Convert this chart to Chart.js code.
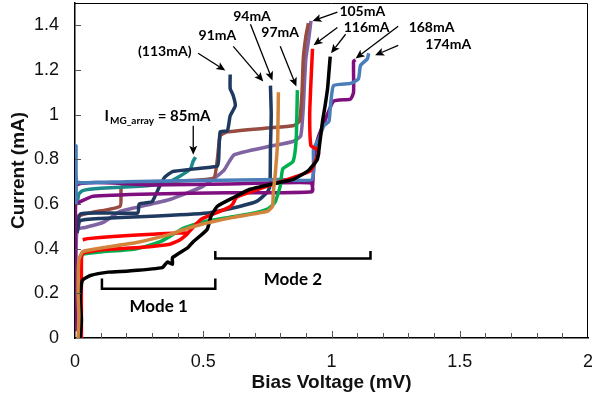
<!DOCTYPE html>
<html>
<head>
<meta charset="utf-8">
<script src="https://cdn.jsdelivr.net/npm/chart.js@4"></script>
<style>
  html, body { margin: 0; padding: 0; background: #fff; }
</style>
</head>
<body>
<canvas id="chart" width="592" height="402"></canvas>
<script>
// I-V sweeps: bias voltage (mV) and current (mA), null = break in the trace
const blackV = [0.02, 0.025, 0.02, 0.025, 0.03, 0.06, 0.13, 0.21, 0.34, 0.36, 0.38, 0.38, 0.44, 0.46, 0.515, 0.53, 0.555, 0.62, 0.68, 0.77, 0.85, 0.91, 0.945, 0.955, 0.965, 0.975, 0.985, 0.99, 0.995];
const blackI = [0.0, 0.08, 0.17, 0.24, 0.26, 0.28, 0.295, 0.30, 0.315, 0.34, 0.33, 0.36, 0.405, 0.43, 0.486, 0.545, 0.59, 0.63, 0.665, 0.69, 0.71, 0.75, 0.80, 0.88, 0.97, 1.04, 1.12, 1.19, 1.26];

const redV = [0.025, 0.025, 0.03, 0.1, 0.25, 0.37, 0.41, 0.44, 0.3, 0.15, 0.05, 0.03, null, 0.44, 0.49, 0.55, 0.6, 0.615, 0.63, 0.7, 0.75, 0.867, 0.92, 0.94, 0.95, 0.945, 0.92, 0.915, 0.92, 0.926];
const redI = [0.0, 0.36, 0.38, 0.395, 0.405, 0.42, 0.44, 0.47, 0.465, 0.455, 0.445, 0.44, null, 0.47, 0.53, 0.56, 0.585, 0.6, 0.63, 0.66, 0.68, 0.725, 0.75, 0.8, 0.825, 0.845, 0.86, 1.0, 1.15, 1.295];

const greenV = [0.02, 0.025, 0.03, 0.1, 0.24, 0.33, 0.37, 0.42, 0.5, 0.6, 0.68, 0.75, 0.78, 0.8, 0.81, 0.85, 0.862, 0.865, 0.867];
const greenI = [0.3, 0.36, 0.375, 0.385, 0.40, 0.43, 0.455, 0.49, 0.52, 0.54, 0.555, 0.577, 0.608, 0.68, 0.757, 0.79, 0.88, 1.0, 1.11];

const orangeV = [0.012, 0.015, 0.012, 0.015, 0.03, 0.11, 0.24, 0.37, 0.45, 0.527, 0.617, 0.75, 0.77, 0.773, 0.78, 0.79, 0.793];
const orangeI = [0.0, 0.1, 0.2, 0.35, 0.387, 0.405, 0.428, 0.464, 0.495, 0.518, 0.54, 0.567, 0.59, 0.653, 0.725, 0.88, 1.10];

const navyAV = [0.008, 0.02, 0.1, 0.245, 0.25, 0.3, 0.31, 0.33, 0.35, 0.38, 0.45, 0.53, 0.555, 0.56, 0.566, 0.594, 0.605, 0.625, 0.617, 0.605, 0.605];
const navyAI = [0.48, 0.555, 0.56, 0.56, 0.6, 0.61, 0.63, 0.68, 0.72, 0.745, 0.755, 0.765, 0.77, 0.80, 0.923, 0.928, 0.995, 1.04, 1.085, 1.117, 1.18];

const navyBV = [0.008, 0.02, 0.1, 0.3, 0.52, 0.566, 0.645, 0.71, 0.75, 0.76, 0.762, 0.765, 0.762];
const navyBI = [0.47, 0.525, 0.535, 0.545, 0.56, 0.57, 0.59, 0.613, 0.653, 0.68, 0.85, 1.0, 1.13];

const tealV = [0.008, 0.015, 0.03, 0.1, 0.25, 0.344, 0.37, 0.41, 0.45, 0.46, 0.47];
const tealI = [0.6, 0.645, 0.66, 0.67, 0.68, 0.69, 0.70, 0.725, 0.757, 0.79, 0.81];

const brownV = [0.003, 0.01, 0.07, 0.176, 0.18, 0.2, 0.35, 0.54, 0.555, 0.566, 0.594, 0.75, 0.85, 0.875, 0.885, 0.89, 0.9, 0.91];
const brownI = [0.5, 0.545, 0.563, 0.59, 0.675, 0.685, 0.70, 0.716, 0.80, 0.905, 0.923, 0.94, 0.95, 0.97, 1.1, 1.25, 1.35, 1.41];

const lavenderV = [0.003, 0.008, 0.04, 0.11, 0.176, 0.24, 0.37, 0.5, 0.58, 0.62, 0.75, 0.85, 0.88, 0.89, 0.895, 0.9, 0.91, 0.92];
const lavenderI = [0.3, 0.486, 0.495, 0.518, 0.567, 0.585, 0.62, 0.68, 0.75, 0.82, 0.856, 0.88, 0.905, 1.03, 1.15, 1.25, 1.33, 1.42];

const purpleV = [0.003, 0.003, 0.3, 0.6, 0.92, 0.925, 0.6, 0.3, 0.07, 0.02, 0.006, null, 0.925, 0.93, 0.9375, 0.95, 0.97, 1.008, 1.074, 1.086, 1.086, 1.094];
const purpleI = [0.03, 0.68, 0.685, 0.69, 0.695, 0.655, 0.65, 0.645, 0.635, 0.61, 0.6, null, 0.657, 0.748, 0.847, 0.905, 0.96, 1.06, 1.07, 1.10, 1.24, 1.245];

const steelV = [0.004, 0.004, 0.006, 0.03, 0.2, 0.5, 0.8, 0.925, 0.93, 0.95, 0.97, 0.99, 0.996, 1.008, 1.074, 1.105, 1.113, 1.14, 1.145];
const steelI = [0.6, 0.86, 0.70, 0.695, 0.70, 0.705, 0.71, 0.71, 0.847, 0.89, 0.95, 0.97, 1.04, 1.13, 1.14, 1.16, 1.22, 1.25, 1.275];

const xTicks = [0, 0.5, 1, 1.5, 2];
const yTicks = [0, 0.2, 0.4, 0.6, 0.8, 1, 1.2, 1.4];

// annotations (data coordinates)
const notes = [
  { text: '(113mA)', x: 0.35, y: 1.284 },
  { text: '91mA', x: 0.555, y: 1.356 },
  { text: '94mA', x: 0.69, y: 1.44 },
  { text: '97mA', x: 0.80, y: 1.37 },
  { text: '105mA', x: 1.12, y: 1.462 },
  { text: '116mA', x: 1.137, y: 1.39 },
  { text: '168mA', x: 1.39, y: 1.39 },
  { text: '174mA', x: 1.455, y: 1.315 }
];
const arrows = [
  [0.461, 0.95, 0.461, 0.82],
  [0.48, 1.275, 0.586, 1.198],
  [0.617, 1.306, 0.734, 1.149],
  [0.684, 1.405, 0.77, 1.153],
  [0.80, 1.306, 0.863, 1.126],
  [1.023, 1.459, 0.926, 1.419],
  [1.023, 1.39, 0.93, 1.311],
  [1.055, 1.36, 0.998, 1.275],
  [1.26, 1.396, 1.094, 1.252],
  [1.26, 1.31, 1.17, 1.266]
];
const brackets = [
  { x1: 0.105, x2: 0.547, y: 0.22, top: 0.266, label: 'Mode 1', ly: 0.14 },
  { x1: 0.547, x2: 1.152, y: 0.356, top: 0.39, label: 'Mode 2', ly: 0.262 }
];

const axisFont = 'Arial, "Liberation Sans", sans-serif';

function pts(v, i) {
  return v.map((x, k) => ({ x: x, y: i[k] }));
}
function curve(v, i, color) {
  return { data: pts(v, i), borderColor: color, borderWidth: 3.5, pointRadius: 0, showLine: true, tension: 0.15, fill: false };
}
function fmt(v) {
  return String(Math.round(v * 10) / 10);
}

const decor = {
  id: 'decor',
  afterDatasetsDraw(chart) {
    const { ctx, chartArea: a, scales: { x, y } } = chart;
    ctx.save();
    // frame
    ctx.strokeStyle = '#000';
    ctx.lineWidth = 1;
    ctx.beginPath();
    ctx.moveTo(a.left, a.top + 0.5);
    ctx.lineTo(a.right - 0.5, a.top + 0.5);
    ctx.lineTo(a.right - 0.5, a.bottom);
    ctx.stroke();
    // inner ticks
    ctx.strokeStyle = '#555';
    ctx.beginPath();
    for (let k = 1; k < 20; k++) {
      const px = Math.round(x.getPixelForValue(k / 10)) + 0.5;
      ctx.moveTo(px, a.bottom);
      ctx.lineTo(px, a.bottom - (k % 5 === 0 ? 7 : 5));
    }
    yTicks.slice(1).forEach(v => {
      const py = Math.round(y.getPixelForValue(v)) + 0.5;
      ctx.moveTo(a.left, py);
      ctx.lineTo(a.left + 6, py);
    });
    ctx.stroke();

    // brackets
    ctx.strokeStyle = '#000';
    ctx.fillStyle = '#000';
    ctx.lineWidth = 2.5;
    ctx.font = 'bold 17px Lato, "Noto Sans", sans-serif';
    ctx.textAlign = 'center';
    ctx.textBaseline = 'middle';
    brackets.forEach(b => {
      const x1 = x.getPixelForValue(b.x1), x2 = x.getPixelForValue(b.x2);
      const yb = y.getPixelForValue(b.y), yt = y.getPixelForValue(b.top);
      ctx.beginPath();
      ctx.moveTo(x1, yt); ctx.lineTo(x1, yb); ctx.lineTo(x2, yb); ctx.lineTo(x2, yt);
      ctx.stroke();
      ctx.fillText(b.label, (x1 + x2) / 2, y.getPixelForValue(b.ly));
    });

    // arrows
    ctx.lineWidth = 1.3;
    arrows.forEach(r => {
      const x1 = x.getPixelForValue(r[0]), y1 = y.getPixelForValue(r[1]);
      const x2 = x.getPixelForValue(r[2]), y2 = y.getPixelForValue(r[3]);
      const ang = Math.atan2(y2 - y1, x2 - x1);
      const hl = 9, hw = 4;
      const bx = x2 - hl * Math.cos(ang), by = y2 - hl * Math.sin(ang);
      ctx.beginPath();
      ctx.moveTo(x1, y1); ctx.lineTo(bx + 2 * Math.cos(ang), by + 2 * Math.sin(ang));
      ctx.stroke();
      ctx.beginPath();
      ctx.moveTo(x2, y2);
      ctx.lineTo(bx - hw * Math.sin(ang), by + hw * Math.cos(ang));
      ctx.lineTo(bx + 2 * Math.cos(ang), by + 2 * Math.sin(ang));
      ctx.lineTo(bx + hw * Math.sin(ang), by - hw * Math.cos(ang));
      ctx.closePath();
      ctx.fill();
    });

    // labels
    ctx.font = 'bold 14px Lato, "Noto Sans", sans-serif';
    notes.forEach(n => ctx.fillText(n.text, x.getPixelForValue(n.x), y.getPixelForValue(n.y)));

    // I_MG_array = 85mA
    const lx = x.getPixelForValue(0.115), ly = y.getPixelForValue(0.995);
    ctx.textAlign = 'left';
    ctx.font = 'bold 15px Lato, "Noto Sans", sans-serif';
    ctx.fillText('I', lx, ly);
    let cx = lx + ctx.measureText('I').width + 1;
    ctx.font = 'bold 10px Lato, "Noto Sans", sans-serif';
    ctx.fillText('MG_array', cx, ly + 5);
    cx += ctx.measureText('MG_array').width;
    ctx.font = 'bold 15px Lato, "Noto Sans", sans-serif';
    ctx.fillText(' = 85mA', cx, ly);
    ctx.restore();
  }
};

new Chart(document.getElementById('chart'), {
  type: 'scatter',
  data: {
    datasets: [
      curve(orangeV, orangeI, '#d2843c'),
      curve(blackV, blackI, '#000000'),
      curve(redV, redI, '#ff0000'),
      curve(greenV, greenI, '#00b050'),
      curve(steelV, steelI, '#4a7ebb'),
      curve(purpleV, purpleI, '#7f0f7e'),
      curve(navyBV, navyBI, '#1f3a60'),
      curve(navyAV, navyAI, '#1f3a60'),
      curve(tealV, tealI, '#1a8a8a'),
      curve(brownV, brownI, '#984b40'),
      curve(lavenderV, lavenderI, '#8064a2')
    ]
  },
  options: {
    responsive: false,
    animation: false,
    layout: { padding: { top: 3, right: 4, left: 0, bottom: 0 } },
    plugins: { legend: { display: false }, tooltip: { enabled: false } },
    scales: {
      x: {
        type: 'linear', min: 0, max: 2,
        afterBuildTicks: s => { s.ticks = xTicks.map(v => ({ value: v })); },
        afterFit: s => { s.height = 64; s.paddingRight = 0; s.paddingLeft = 0; },
        grid: { display: false },
        border: { display: true, color: '#000', width: 1.5 },
        ticks: { padding: 5, color: '#111', callback: fmt, font: { family: axisFont, size: 18 } },
        title: { display: true, text: 'Bias Voltage (mV)', color: '#111', padding: { top: 0, bottom: 8 },
                 font: { family: axisFont, size: 19, weight: 'bold', lineHeight: 1.2 } }
      },
      y: {
        type: 'linear', min: 0, max: 1.5,
        afterBuildTicks: s => { s.ticks = yTicks.map(v => ({ value: v })); },
        afterFit: s => { s.width = 75; s.paddingTop = 0; s.paddingBottom = 0; },
        grid: { display: false },
        border: { display: true, color: '#000', width: 1.5 },
        ticks: { padding: 8, color: '#111', callback: fmt, font: { family: axisFont, size: 18 } },
        title: { display: true, text: 'Current (mA)', color: '#111', padding: { top: 7, bottom: 0 },
                 font: { family: axisFont, size: 19, weight: 'bold', lineHeight: 1.2 } }
      }
    }
  },
  plugins: [decor]
});
</script>
</body>
</html>
